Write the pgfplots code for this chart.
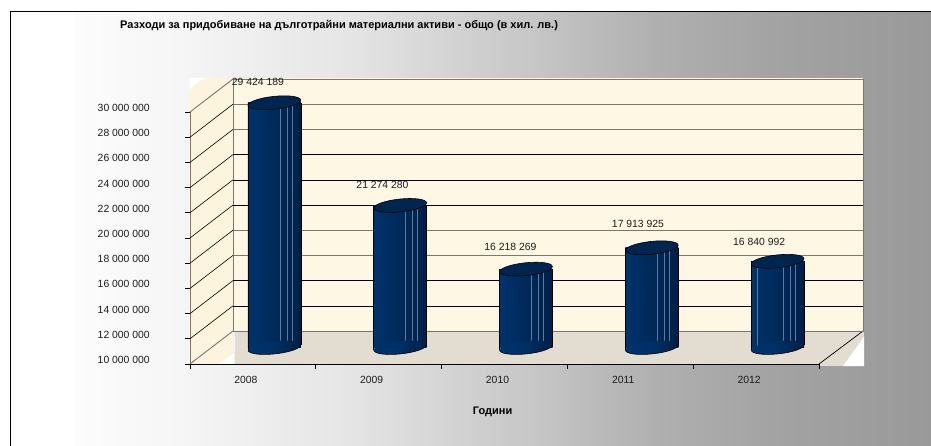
\documentclass[border=0pt]{standalone}
\usepackage{pgfplots}
\pgfplotsset{compat=1.18}
\usepackage{fontspec}
\setmainfont{Liberation Sans}

\definecolor{wall}{HTML}{FEF7E3}
\definecolor{sidewall}{HTML}{FDF4DE}
\definecolor{floorc}{HTML}{E3DDD1}
\definecolor{gridgray}{HTML}{7C776A}
\definecolor{barleft}{HTML}{00336C}
\definecolor{barmid}{HTML}{002F64}
\definecolor{barright}{HTML}{001F47}
\definecolor{bartop}{HTML}{00264F}
\definecolor{barline}{HTML}{5A7A9E}
\definecolor{txt}{HTML}{1C1C1C}

\newcommand{\lbl}{\fontsize{10.4}{12}\selectfont}
\newcommand{\bgseg}[4]{
  \definecolor{bga}{HTML}{#3}\definecolor{bgb}{HTML}{#4}
  \shade[left color=bga, right color=bgb] (#1,-2) rectangle (#2,433.5);
}

\pgfdeclarehorizontalshading{cylshade}{100bp}{color(0bp)=(barleft); color(25bp)=(barleft); color(50bp)=(barmid); color(75bp)=(barright); color(100bp)=(barright)}

% cylinder ends: the base only strokes its lower half
\pgfdeclareplotmark{cylbase}{
  \pgftransformrotate{6}
  \pgfpathellipse{\pgfpointorigin}{\pgfqpoint{26.5pt}{0pt}}{\pgfqpoint{0pt}{6.4pt}}
  \pgfshadepath{cylshade}{0}
  \pgfusepath{discard}
  \pgfsetlinewidth{0.6pt}
  \pgfsetstrokecolor{black}
  \pgfpathmoveto{\pgfqpoint{-26.5pt}{0pt}}
  \pgfpatharc{180}{360}{26.5pt and 6.4pt}
  \pgfusepathqstroke
}
\pgfdeclareplotmark{cyltop}{
  \pgftransformrotate{6}
  \pgfsetlinewidth{0.6pt}
  \pgfsetstrokecolor{black}
  \pgfsetfillcolor{bartop}
  \pgfpathellipse{\pgfpointorigin}{\pgfqpoint{26.5pt}{0pt}}{\pgfqpoint{0pt}{6.4pt}}
  \pgfusepathqfillstroke
}

% one cylinder: year, value, label, label dx, label dy
\newcommand{\cyl}[5]{
  \addplot[only marks, mark=cylbase] coordinates {(#1,10000000)};
  \addplot[ybar, bar width=53pt, bar shift=0pt, draw=none,
    left color=barleft, middle color=barmid, right color=barright]
    coordinates {(#1,#2)};
  \addplot[barline, line width=0.5pt] coordinates {(#1+0.044,9750000) (#1+0.044,#2)};
  \addplot[barline, line width=0.5pt] coordinates {(#1+0.099,9800000) (#1+0.099,#2)};
  \addplot[barline, line width=0.5pt] coordinates {(#1+0.139,9850000) (#1+0.139,#2)};
  \addplot[black, line width=0.6pt] coordinates {(#1-0.21,9780000) (#1-0.21,#2)};
  \addplot[black, line width=0.6pt] coordinates {(#1+0.21,10220000) (#1+0.21,#2)};
  \addplot[only marks, mark=cyltop] coordinates {(#1,#2)};
  \addplot[draw=none, nodes near coords={#3},
    every node near coord/.style={anchor=center, text=txt, font=\lbl, xshift=#4, yshift=#5}]
    coordinates {(#1,#2)};
}

\begin{document}
\begin{tikzpicture}[x=1pt,y=1pt]
\useasboundingbox (0,0) rectangle (931,445);

% background (y = 445 - pixel row)
\fill[white] (0,-2) rectangle (933,447);
\bgseg{74}{178.5}{FCFCFC}{F6F6F6}
\bgseg{178}{356.5}{F6F6F6}{E4E4E4}
\bgseg{356}{470.5}{E4E4E4}{D0D0D0}
\bgseg{470}{534.5}{D0D0D0}{C6C6C6}
\bgseg{534}{653.5}{C6C6C6}{B0B0B0}
\bgseg{653}{772.5}{B0B0B0}{A3A3A3}
\bgseg{772}{933}{A3A3A3}{999999}
\draw[black, line width=1pt] (10,-2) -- (10,433.5) -- (933,433.5);

% walls and floor
\fill[sidewall] (190,81) rectangle (233,367);
\fill[white] (189.5,367) -- (206,367) .. controls (197,363) and (192,360) .. (189.5,354) -- cycle;
\fill[white] (218,81) -- (234,81) -- (234,92) -- cycle;
\fill[wall] (233,114) rectangle (863,367);
\fill[floorc] (235,81) rectangle (819,114);
\fill[floorc] (819,79) rectangle (864,114);
\fill[white] (843,79) -- (864,79) -- (864,108) -- cycle;
\draw[black, line width=0.7pt] (819,81) -- (863,114);

% back wall with grid lines
\begin{axis}[
  at={(233pt,114pt)}, anchor=south west, scale only axis,
  width=630pt, height=252pt,
  xmin=2007.5, xmax=2012.5, ymin=10000000, ymax=30000000,
  xtick=\empty, scaled y ticks=false,
  ytick={16000000,18000000,26000000,28000000},
  yticklabels={}, major tick length=0pt,
  extra y ticks={12000000,14000000,20000000,22000000,24000000},
  extra y tick labels={},
  extra y tick style={ymajorgrids=true, grid style={black, line width=0.6pt}},
  ymajorgrids, grid style={gridgray, line width=0.9pt},
  axis line style={gridgray, line width=0.9pt},
]
\end{axis}

% depth plane of the cylinders
\begin{axis}[
  at={(211.5pt,97.5pt)}, anchor=south west, scale only axis,
  width=629pt, height=252pt,
  xmin=2007.5, xmax=2012.5, ymin=10000000, ymax=30000000,
  hide axis, clip=false,
]
\cyl{2008}{29424189}{29 424 189}{-16.5pt}{21pt}
\cyl{2009}{21274280}{21 274 280}{-17.7pt}{21pt}
\cyl{2010}{16218269}{16 218 269}{-15.6pt}{22pt}
\cyl{2011}{17913925}{17 913 925}{-13.8pt}{23.8pt}
\cyl{2012}{16840992}{16 840 992}{-18.5pt}{19.3pt}
\addplot[barline, line width=0.5pt] coordinates {(2011.84,9900000) (2011.84,16840992)};
\end{axis}

% front axis with ticks and labels
\begin{axis}[
  at={(190pt,81pt)}, anchor=south west, scale only axis,
  width=629pt, height=252pt,
  xmin=2007.5, xmax=2012.5, ymin=10000000, ymax=30000000,
  clip=false,
  axis x line=bottom, axis y line=left,
  axis line style={-},
  x axis line style={black, line width=0.8pt},
  y axis line style={gridgray, line width=0.9pt},
  tick align=outside,
  xtick={2008,2009,2010,2011,2012},
  xticklabels={2008,2009,2010,2011,2012},
  minor xtick={2007.5,2008.5,2009.5,2010.5,2011.5,2012.5},
  major x tick style={draw=none},
  minor x tick style={black, line width=0.7pt},
  minor tick length=4.5pt,
  ytick={10000000,12000000,14000000,16000000,18000000,20000000,22000000,24000000,26000000,28000000,30000000},
  y tick style={black, line width=0.7pt},
  major tick length=4.7pt,
  scaled y ticks=false,
  /pgf/number format/.cd, fixed, precision=0, 1000 sep={\ }, assume math mode=true,
  /pgfplots/.cd,
  tick label style={font=\lbl, text=txt},
  yticklabel style={anchor=east, xshift=-32pt, yshift=4pt},
  xticklabel style={anchor=center, xshift=-7pt, yshift=-11pt},
  title={Разходи за придобиване на дълготрайни материални активи - общо (в хил. лв.)},
  title style={at={(axis description cs:0.237,1.321)}, anchor=center, yshift=0pt, font=\fontsize{11}{13}\selectfont\bfseries, text=black},
  xlabel={Години},
  xlabel style={at={(axis description cs:0.481,-0.19)}, anchor=center, font=\fontsize{11}{13}\selectfont\bfseries, text=black},
]
\pgfplotsinvokeforeach{12000000,14000000,16000000,18000000,20000000,22000000,24000000,26000000,28000000}{
  \draw[black, line width=0.6pt] (axis cs:2007.5,#1) -- ++(43pt,33pt);
}
\draw[gridgray, line width=0.9pt] (axis cs:2007.5,30000000) -- ++(43pt,33pt);
\draw[gridgray, line width=0.9pt] (axis cs:2007.5,10000000) -- ++(43pt,33pt);
\end{axis}
\end{tikzpicture}
\end{document}
